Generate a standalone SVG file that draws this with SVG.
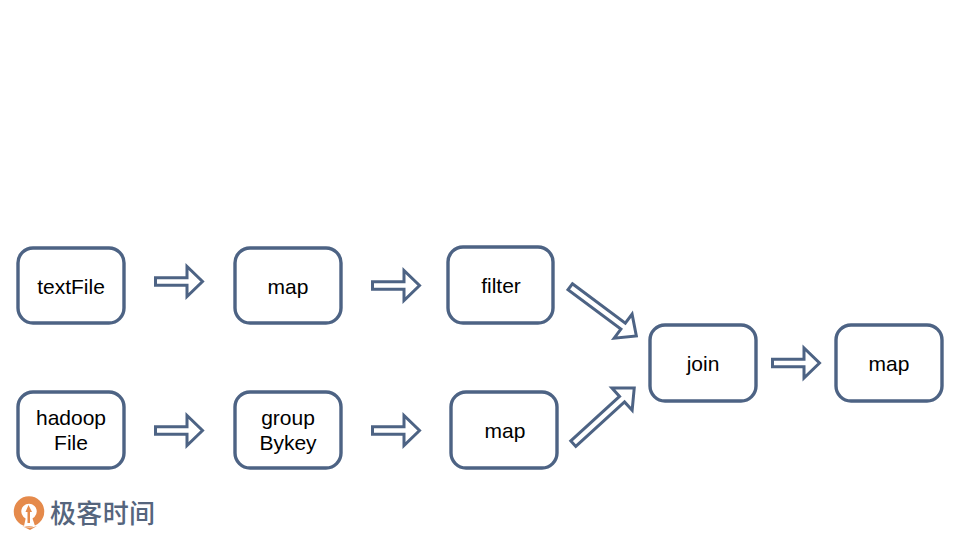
<svg xmlns="http://www.w3.org/2000/svg" width="960" height="540" viewBox="0 0 960 540">
<style>
.box{fill:#fff;stroke:#4d6384;stroke-width:3.4}
.arr{fill:#fff;stroke:#4d6384;stroke-width:3;stroke-linejoin:miter}
.t{font-family:"Liberation Sans",Arial,sans-serif;font-size:21px;fill:#000;text-anchor:middle}
.logo{font-family:"Noto Sans CJK SC",sans-serif;font-size:26px;font-weight:500;fill:#55657d}
</style>
<defs>
<polygon id="a" class="arr" points="1.500,-3.700 33,-3.700 33,-15 48.500,0 33,15 33,3.700 1.500,3.700"/>
<polygon id="d" class="arr" points="1.500,-3.700 67.500,-3.700 67.500,-15 84,0 67.500,15 67.500,3.700 1.500,3.700"/>
</defs>
<rect width="960" height="540" fill="#fff"/>
<g id="connectors">
<use href="#a" x="154" y="281.500"/>
<use href="#a" x="371" y="285.500"/>
<use href="#a" x="154" y="430.500"/>
<use href="#a" x="371" y="430.500"/>
<use href="#a" x="771" y="363"/>
<use href="#d" transform="translate(569 285.800) rotate(36.700)"/>
<use href="#d" transform="translate(572.200 444.700) rotate(-42.400)"/>
</g>
<g id="textFile"><rect class="box" x="18" y="248" width="106" height="75" rx="15"/><text class="t" x="71" y="294">textFile</text></g>
<g id="map1"><rect class="box" x="235" y="248" width="106" height="75" rx="15"/><text class="t" x="288" y="294">map</text></g>
<g id="filter"><rect class="box" x="448" y="247" width="105" height="76" rx="15"/><text class="t" x="501" y="293">filter</text></g>
<g id="hadoopFile"><rect class="box" x="18" y="392" width="106" height="76" rx="15"/><text class="t" x="71" y="425">hadoop</text><text class="t" x="71" y="450">File</text></g>
<g id="groupBykey"><rect class="box" x="235" y="392" width="106" height="76" rx="15"/><text class="t" x="288" y="425">group</text><text class="t" x="288" y="450">Bykey</text></g>
<g id="map2"><rect class="box" x="451" y="392" width="106" height="76" rx="15"/><text class="t" x="505" y="438">map</text></g>
<g id="join"><rect class="box" x="650" y="325" width="106" height="76" rx="15"/><text class="t" x="703" y="371">join</text></g>
<g id="map3"><rect class="box" x="836" y="325" width="106" height="76" rx="15"/><text class="t" x="889" y="371">map</text></g>
<g id="logo">
<circle cx="29" cy="511.500" r="11.500" fill="none" stroke="#e58a4b" stroke-width="7.500"/>
<path d="M24 526 L26 517 L32 517 L35 526 Z" fill="#fff"/>
<path d="M28.500 505 L32 512 L30 512 L30 523 L27.500 523 L27.500 512 L25.500 512 Z" fill="#e58a4b"/>
<path d="M22 526 Q29 529 37 526 L30 530 Z" fill="#e58a4b"/>
<text class="logo" x="50" y="523" textLength="105">极客时间</text>
</g>
</svg>
